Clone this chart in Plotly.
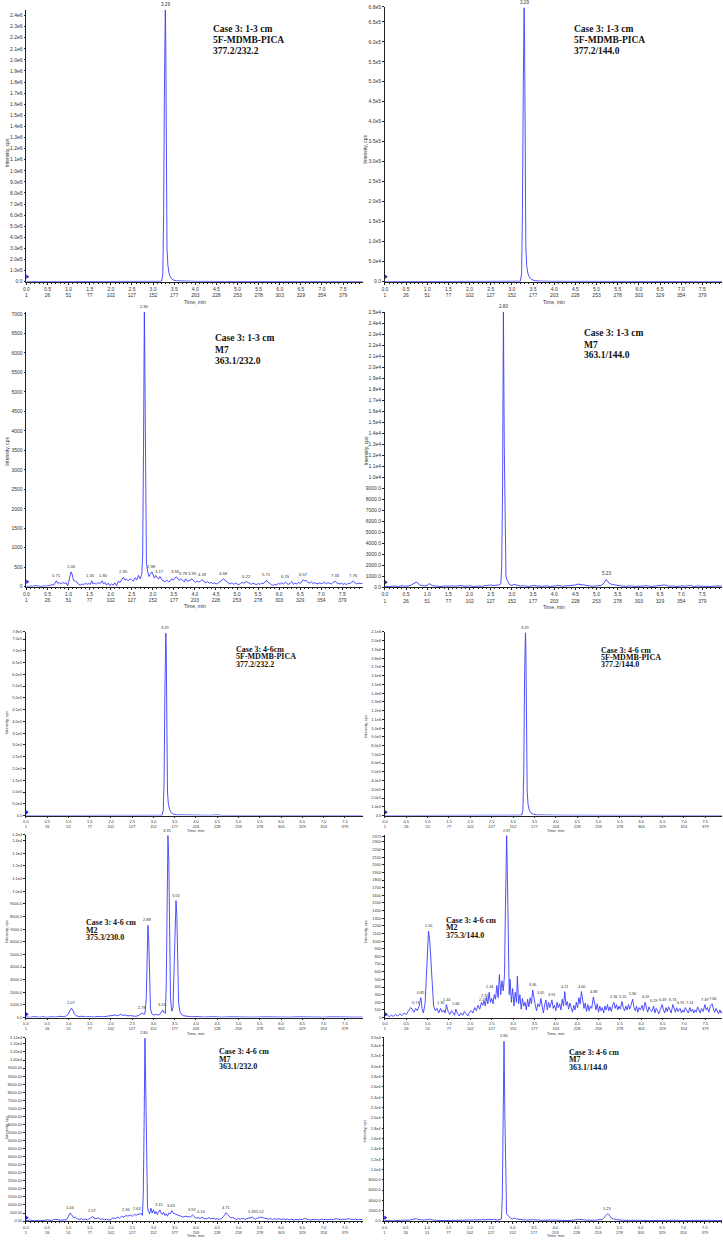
import plotly.graph_objects as go

W, H = 723, 1240
LINE = "#3c3cff"

# ---------------- shared axis labels ----------------
time_ticks = [0.0, 0.5, 1.0, 1.5, 2.0, 2.5, 3.0, 3.5, 4.0, 4.5, 5.0, 5.5, 6.0, 6.5, 7.0, 7.5]
scan_numbers = [1, 26, 51, 77, 102, 127, 152, 177, 203, 228, 253, 278, 303, 329, 354, 379]

# ---------------- A: Case 3 1-3 cm, 5F-MDMB-PICA 377.2/232.2 ----------------
a_time = [0.00, 0.50, 1.00, 1.50, 2.00, 2.20, 2.50, 3.00, 3.20, 3.23, 3.25, 3.27, 3.28, 3.29, 3.30, 3.31,
          3.32, 3.33, 3.35, 3.38, 3.42, 3.47, 3.55, 3.70, 4.00, 4.40, 4.80, 5.50, 6.50, 8.00]
a_int = [0, 0, 0, 0, 0, 3000, 0, 0, 3000, 6.0e4, 6.0e5, 1.8e6, 2.3e6, 2.45e6, 2.2e6, 1.3e6,
         6.0e5, 3.0e5, 1.5e5, 7.0e4, 3.5e4, 1.6e4, 8000, 4000, 2500, 2000, 1000, 500, 0, 0]
a_peak_t = [3.29]
a_peak_i = [2.45e6]
a_peak_lbl = ["3.29"]
a_ytext = ["0.0", "1.0e5", "2.0e5", "3.0e5", "4.0e5", "5.0e5", "6.0e5", "7.0e5", "8.0e5", "9.0e5",
           "1.0e6", "1.1e6", "1.2e6", "1.3e6", "1.4e6", "1.5e6", "1.6e6", "1.7e6", "1.8e6", "1.9e6",
           "2.0e6", "2.1e6", "2.2e6", "2.3e6", "2.4e6"]
a_yvals = [0, 1e5, 2e5, 3e5, 4e5, 5e5, 6e5, 7e5, 8e5, 9e5, 1.0e6, 1.1e6, 1.2e6, 1.3e6, 1.4e6, 1.5e6,
           1.6e6, 1.7e6, 1.8e6, 1.9e6, 2.0e6, 2.1e6, 2.2e6, 2.3e6, 2.4e6]

# ---------------- B: Case 3 1-3 cm, 5F-MDMB-PICA 377.2/144.0 ----------------
b_time = [0.00, 1.00, 2.00, 3.00, 3.20, 3.23, 3.25, 3.27, 3.28, 3.29, 3.30, 3.31, 3.32, 3.33, 3.35,
          3.38, 3.42, 3.47, 3.55, 3.70, 4.00, 5.00, 8.00]
b_int = [0, 0, 0, 500, 1000, 2.0e4, 1.8e5, 5.0e5, 6.5e5, 6.85e5, 6.0e5, 3.6e5, 1.7e5, 8.5e4, 4.0e4,
         2.0e4, 1.0e4, 5000, 2500, 1200, 800, 300, 0]
b_peak_t = [3.29]
b_peak_i = [6.85e5]
b_peak_lbl = ["3.29"]
b_ytext = ["0.0", "5.0e4", "1.0e5", "1.5e5", "2.0e5", "2.5e5", "3.0e5", "3.5e5", "4.0e5", "4.5e5",
           "5.0e5", "5.5e5", "6.0e5", "6.5e5", "6.8e5"]
b_yvals = [0, 5e4, 1e5, 1.5e5, 2e5, 2.5e5, 3e5, 3.5e5, 4e5, 4.5e5, 5e5, 5.5e5, 6e5, 6.5e5, 6.87e5]

# ---------------- C: Case 3 1-3 cm, M7 363.1/232.0 ----------------
c_time = [0.00, 0.05, 0.10, 0.15, 0.20, 0.25, 0.30, 0.35, 0.40, 0.45, 0.50, 0.55, 0.60, 0.65, 0.68, 0.71,
          0.74, 0.78, 0.82, 0.86, 0.90, 0.94, 0.98, 1.02, 1.06, 1.09, 1.12, 1.16, 1.20, 1.24, 1.28, 1.32,
          1.36, 1.40, 1.44, 1.48, 1.52, 1.55, 1.58, 1.62, 1.66, 1.70, 1.74, 1.77, 1.80, 1.83, 1.87, 1.90,
          1.94, 1.98, 2.02, 2.06, 2.10, 2.14, 2.18, 2.22, 2.26, 2.30, 2.34, 2.38, 2.42, 2.46, 2.50, 2.54,
          2.58, 2.62, 2.66, 2.70, 2.74, 2.76, 2.78, 2.80, 2.81, 2.82, 2.83, 2.85, 2.88, 2.91, 2.94, 2.98,
          3.01, 3.04, 3.07, 3.10, 3.14, 3.17, 3.21, 3.25, 3.29, 3.33, 3.37, 3.41, 3.45, 3.49, 3.52, 3.55,
          3.59, 3.63, 3.67, 3.71, 3.75, 3.78, 3.82, 3.86, 3.90, 3.93, 3.97, 4.01, 4.05, 4.09, 4.13, 4.18,
          4.22, 4.26, 4.30, 4.34, 4.38, 4.42, 4.46, 4.50, 4.54, 4.58, 4.62, 4.66, 4.68, 4.72, 4.76, 4.80,
          4.84, 4.88, 4.92, 4.96, 5.00, 5.04, 5.08, 5.12, 5.16, 5.20, 5.22, 5.26, 5.30, 5.34, 5.38, 5.42,
          5.46, 5.50, 5.54, 5.58, 5.62, 5.66, 5.71, 5.74, 5.78, 5.82, 5.86, 5.90, 5.94, 5.98, 6.02, 6.06,
          6.10, 6.15, 6.18, 6.22, 6.26, 6.30, 6.34, 6.38, 6.42, 6.46, 6.50, 6.54, 6.57, 6.60, 6.64, 6.68,
          6.72, 6.76, 6.80, 6.84, 6.88, 6.92, 6.96, 7.00, 7.04, 7.08, 7.12, 7.16, 7.20, 7.24, 7.28, 7.33,
          7.36, 7.40, 7.44, 7.48, 7.52, 7.56, 7.60, 7.64, 7.68, 7.72, 7.76, 7.80, 7.84, 7.88, 7.92, 8.00]
c_int = [20, 5, 15, 10, 25, 10, 15, 5, 20, 10, 30, 25, 50, 40, 80, 150,
         90, 100, 70, 110, 80, 100, 20, 200, 380, 300, 160, 140, 120, 60, 40, 70,
         50, 90, 60, 80, 60, 150, 70, 90, 60, 110, 80, 100, 150, 70, 110, 40,
         90, 30, 70, 40, 100, 20, 140, 110, 180, 240, 170, 190, 150, 200, 180, 140,
         230, 170, 290, 200, 320, 800, 3500, 7050, 6000, 4500, 2000, 600, 380, 260, 320, 380,
         300, 220, 290, 230, 200, 260, 180, 150, 120, 170, 130, 140, 200, 170, 210, 250,
         220, 160, 200, 150, 120, 200, 140, 150, 170, 200, 150, 110, 150, 120, 140, 180,
         120, 100, 130, 90, 110, 80, 100, 70, 80, 110, 140, 170, 200, 160, 120, 90,
         70, 100, 60, 90, 70, 50, 80, 110, 90, 120, 130, 110, 80, 60, 90, 70,
         50, 80, 60, 90, 70, 120, 160, 110, 70, 50, 30, 60, 40, 90, 60, 100,
         70, 120, 80, 60, 90, 130, 60, 90, 70, 110, 80, 140, 180, 150, 160, 110,
         90, 130, 80, 100, 90, 70, 100, 80, 90, 110, 80, 100, 90, 70, 110, 140,
         100, 80, 70, 90, 60, 80, 50, 90, 80, 110, 140, 100, 70, 90, 80, 90]
c_peak_t = [0.71, 1.06, 1.55, 1.80, 2.30, 2.80, 2.98, 3.17, 3.55, 3.78, 3.93, 4.18, 4.68, 5.22, 5.71,
            6.15, 6.57, 7.33, 7.76]
c_peak_i = [150, 380, 150, 150, 240, 7050, 380, 260, 250, 200, 200, 180, 200, 130, 160, 120, 180, 140, 140]
c_peak_lbl = ["0.71", "1.06", "1.55", "1.80", "2.30", "2.80", "2.98", "3.17", "3.55", "3.78", "3.93",
              "4.18", "4.68", "5.22", "5.71", "6.15", "6.57", "7.33", "7.76"]
c_ytext = ["0", "500", "1000", "1500", "2000", "2500", "3000", "3500", "4000", "4500", "5000", "5500",
           "6000", "6500", "7000"]
c_yvals = [0, 500, 1000, 1500, 2000, 2500, 3000, 3500, 4000, 4500, 5000, 5500, 6000, 6500, 7000]

# ---------------- D: Case 3 1-3 cm, M7 363.1/144.0 ----------------
d_time = [0.00, 0.10, 0.20, 0.30, 0.40, 0.50, 0.60, 0.66, 0.70, 0.74, 0.78, 0.82, 0.88, 0.94, 1.00,
          1.04, 1.08, 1.12, 1.20, 1.30, 1.40, 1.50, 1.60, 1.70, 1.80, 1.90, 2.00, 2.10, 2.20, 2.30, 2.40,
          2.50, 2.56, 2.62, 2.70, 2.74, 2.76, 2.78, 2.80, 2.82, 2.84, 2.86, 2.88, 2.90, 2.94, 3.00, 3.05,
          3.10, 3.20, 3.30, 3.40, 3.50, 3.60, 3.70, 3.80, 3.90, 4.00, 4.10, 4.20, 4.30, 4.40, 4.50, 4.56,
          4.62, 4.70, 4.80, 4.90, 5.00, 5.10, 5.16, 5.20, 5.23, 5.26, 5.30, 5.36, 5.42, 5.50, 5.60, 5.70,
          5.80, 5.90, 6.00, 6.10, 6.20, 6.30, 6.40, 6.50, 6.60, 6.66, 6.70, 6.80, 6.90, 7.00, 7.10, 7.20,
          7.30, 7.40, 7.50, 7.60, 7.70, 7.80, 7.90, 8.00]
d_int = [80, 40, 100, 60, 120, 80, 150, 300, 420, 450, 350, 200, 150, 100, 150,
         320, 250, 150, 100, 60, 100, 80, 60, 100, 150, 80, 120, 60, 100, 80, 150,
         200, 150, 180, 200, 300, 2000, 9000, 25000, 13000, 4000, 1000, 700, 500, 250, 150, 250,
         200, 100, 120, 60, 150, 100, 80, 120, 60, 100, 150, 80, 100, 120, 200, 280,
         250, 150, 100, 80, 120, 150, 300, 550, 700, 550, 350, 250, 200, 150, 100, 80,
         120, 60, 100, 80, 120, 60, 100, 120, 200, 150, 80, 100, 60, 120, 80, 150,
         60, 100, 80, 120, 60, 100, 80, 100]
d_peak_t = [2.80, 5.23]
d_peak_i = [25000, 700]
d_peak_lbl = ["2.80", "5.23"]
d_ytext = ["0.0", "1000.0", "2000.0", "3000.0", "4000.0", "5000.0", "6000.0", "7000.0", "8000.0", "9000.0",
           "1.0e4", "1.1e4", "1.2e4", "1.3e4", "1.4e4", "1.5e4", "1.6e4", "1.7e4", "1.8e4", "1.9e4",
           "2.0e4", "2.1e4", "2.2e4", "2.3e4", "2.4e4", "2.5e4"]
d_yvals = [0, 1000, 2000, 3000, 4000, 5000, 6000, 7000, 8000, 9000, 10000, 11000, 12000, 13000, 14000,
           15000, 16000, 17000, 18000, 19000, 20000, 21000, 22000, 23000, 24000, 25000]

# ---------------- E: Case 3 4-6 cm, 5F-MDMB-PICA 377.2/232.2 ----------------
e_time = [0.00, 1.00, 2.00, 2.80, 3.20, 3.23, 3.25, 3.27, 3.28, 3.29, 3.30, 3.31, 3.32, 3.33, 3.35,
          3.38, 3.42, 3.47, 3.55, 3.70, 4.00, 4.30, 4.40, 4.50, 4.60, 5.00, 6.00, 8.00]
e_int = [0, 0, 0, 0, 1000, 2.0e4, 1.5e5, 5.5e5, 7.2e5, 7.75e5, 7.0e5, 4.5e5, 2.2e5, 1.0e5, 5.0e4,
         2.5e4, 1.2e4, 6000, 3000, 2000, 1500, 1000, 1500, 3000, 500, 0, 0, 0]
e_peak_t = [3.29]
e_peak_i = [7.75e5]
e_peak_lbl = ["3.29"]
e_ytext = ["0.0", "5.0e4", "1.0e5", "1.5e5", "2.0e5", "2.5e5", "3.0e5", "3.5e5", "4.0e5", "4.5e5",
           "5.0e5", "5.5e5", "6.0e5", "6.5e5", "7.0e5", "7.5e5", "7.8e5"]
e_yvals = [0, 5e4, 1e5, 1.5e5, 2e5, 2.5e5, 3e5, 3.5e5, 4e5, 4.5e5, 5e5, 5.5e5, 6e5, 6.5e5, 7e5, 7.5e5, 7.8e5]

# ---------------- F: Case 3 4-6 cm, 5F-MDMB-PICA 377.2/144.0 ----------------
f_time = [0.00, 1.00, 2.00, 2.60, 2.80, 3.00, 3.20, 3.23, 3.25, 3.27, 3.28, 3.29, 3.30, 3.31, 3.32,
          3.33, 3.35, 3.38, 3.42, 3.47, 3.55, 3.70, 4.00, 4.50, 5.00, 5.40, 6.00, 8.00]
f_int = [0, 0, 0, 3000, 5000, 2000, 4000, 6.0e4, 5.0e5, 1.6e6, 2.0e6, 2.09e6, 1.9e6, 1.2e6, 6.0e5,
         2.8e5, 1.3e5, 6.0e4, 3.0e4, 1.5e4, 8000, 5000, 4000, 3000, 3000, 2000, 0, 0]
f_peak_t = [3.29]
f_peak_i = [2.09e6]
f_peak_lbl = ["3.29"]
f_ytext = ["0.0", "1.0e5", "2.0e5", "3.0e5", "4.0e5", "5.0e5", "6.0e5", "7.0e5", "8.0e5", "9.0e5",
           "1.0e6", "1.1e6", "1.2e6", "1.3e6", "1.4e6", "1.5e6", "1.6e6", "1.7e6", "1.8e6", "1.9e6",
           "2.0e6", "2.1e6"]
f_yvals = [0, 1e5, 2e5, 3e5, 4e5, 5e5, 6e5, 7e5, 8e5, 9e5, 1.0e6, 1.1e6, 1.2e6, 1.3e6, 1.4e6, 1.5e6,
           1.6e6, 1.7e6, 1.8e6, 1.9e6, 2.0e6, 2.1e6]

# ---------------- G: Case 3 4-6 cm, M2 375.3/230.0 ----------------
g_time = [0.00, 0.10, 0.20, 0.30, 0.40, 0.50, 0.60, 0.70, 0.80, 0.90, 0.96, 1.00, 1.04, 1.07, 1.10,
          1.14, 1.18, 1.24, 1.30, 1.40, 1.50, 1.60, 1.70, 1.80, 1.90, 2.00, 2.10, 2.16, 2.22, 2.28, 2.34,
          2.40, 2.46, 2.52, 2.58, 2.64, 2.70, 2.74, 2.77, 2.80, 2.83, 2.85, 2.87, 2.89, 2.91, 2.93, 2.96,
          3.00, 3.05, 3.10, 3.15, 3.19, 3.22, 3.25, 3.28, 3.30, 3.32, 3.34, 3.36, 3.38, 3.40, 3.43, 3.46,
          3.49, 3.51, 3.53, 3.55, 3.57, 3.59, 3.62, 3.66, 3.70, 3.80, 3.90, 4.00, 4.20, 4.40, 4.60, 4.80,
          5.00, 5.20, 5.40, 5.60, 5.80, 6.00, 6.20, 6.40, 6.60, 6.80, 7.00, 7.20, 7.40, 7.60, 7.80, 8.00]
g_int = [50, 20, 80, 30, 60, 20, 70, 40, 100, 60, 150, 300, 600, 740, 600,
         300, 150, 80, 100, 50, 80, 40, 90, 60, 100, 150, 200, 140, 250, 180, 200,
         130, 160, 120, 100, 150, 250, 370, 250, 300, 1500, 4500, 7300, 6000, 2500, 700, 300,
         200, 250, 200, 250, 500, 600, 400, 350, 2500, 10000, 14400, 12500, 5000, 1500, 500, 800,
         4500, 8500, 9250, 8000, 4000, 1200, 500, 250, 150, 100, 60, 80, 40, 70, 30, 60,
         40, 70, 30, 60, 40, 70, 30, 60, 40, 70, 30, 60, 40, 70, 30, 50]
g_peak_t = [1.07, 2.74, 2.87, 3.22, 3.34, 3.53]
g_peak_i = [740, 370, 7300, 600, 14400, 9250]
g_peak_lbl = ["1.07", "2.78", "2.88", "3.24", "3.35", "3.55"]
g_ytext = ["0.0", "1000.0", "2000.0", "3000.0", "4000.0", "5000.0", "6000.0", "7000.0", "8000.0", "9000.0",
           "1.0e4", "1.1e4", "1.2e4", "1.3e4", "1.4e4", "1.4e4"]
g_yvals = [0, 1000, 2000, 3000, 4000, 5000, 6000, 7000, 8000, 9000, 10000, 11000, 12000, 13000, 14000, 14450]

# ---------------- H: Case 3 4-6 cm, M2 375.3/144.0 ----------------
h_time = [0.00, 0.05, 0.10, 0.15, 0.20, 0.25, 0.30, 0.35, 0.40, 0.45, 0.50, 0.55, 0.60, 0.64, 0.68, 0.72,
          0.76, 0.80, 0.84, 0.87, 0.90, 0.94, 0.98, 1.02, 1.05, 1.08, 1.11, 1.14, 1.18, 1.22, 1.26, 1.30,
          1.34, 1.38, 1.41, 1.44, 1.48, 1.52, 1.56, 1.60, 1.63, 1.66, 1.70, 1.74, 1.78, 1.82, 1.86, 1.90,
          1.94, 1.98, 2.02, 2.06, 2.10, 2.14, 2.18, 2.22, 2.26, 2.29, 2.32, 2.35, 2.38, 2.41, 2.44, 2.47,
          2.50, 2.53, 2.56, 2.59, 2.62, 2.65, 2.68, 2.71, 2.74, 2.77, 2.80, 2.82, 2.85, 2.87, 2.89, 2.91,
          2.93, 2.96, 2.99, 3.02, 3.05, 3.08, 3.10, 3.13, 3.16, 3.19, 3.22, 3.25, 3.28, 3.31, 3.34, 3.37,
          3.40, 3.43, 3.46, 3.49, 3.52, 3.55, 3.58, 3.62, 3.65, 3.68, 3.71, 3.74, 3.77, 3.80, 3.83, 3.86,
          3.89, 3.91, 3.94, 3.97, 4.00, 4.03, 4.06, 4.09, 4.12, 4.15, 4.18, 4.21, 4.24, 4.27, 4.30, 4.33,
          4.36, 4.39, 4.42, 4.45, 4.48, 4.51, 4.54, 4.57, 4.60, 4.63, 4.66, 4.69, 4.72, 4.75, 4.78, 4.81,
          4.84, 4.88, 4.91, 4.94, 4.97, 5.00, 5.03, 5.06, 5.09, 5.12, 5.15, 5.18, 5.21, 5.24, 5.27, 5.30,
          5.33, 5.36, 5.39, 5.42, 5.45, 5.48, 5.51, 5.55, 5.58, 5.61, 5.64, 5.67, 5.70, 5.73, 5.76, 5.80,
          5.83, 5.86, 5.89, 5.92, 5.95, 5.98, 6.02, 6.05, 6.09, 6.12, 6.15, 6.18, 6.21, 6.25, 6.29, 6.32,
          6.35, 6.38, 6.41, 6.45, 6.49, 6.52, 6.55, 6.58, 6.61, 6.64, 6.67, 6.70, 6.74, 6.77, 6.80, 6.83,
          6.86, 6.91, 6.94, 6.97, 7.00, 7.03, 7.06, 7.10, 7.14, 7.17, 7.20, 7.23, 7.26, 7.29, 7.32, 7.35,
          7.38, 7.41, 7.45, 7.49, 7.52, 7.55, 7.58, 7.62, 7.66, 7.69, 7.72, 7.75, 7.78, 7.81, 7.84, 7.87,
          7.90, 7.93, 7.96, 8.00]
h_int = [20, 40, 10, 30, 15, 40, 20, 50, 25, 60, 40, 90, 130, 110, 70, 120,
         90, 150, 260, 120, 60, 180, 700, 1130, 1000, 750, 400, 150, 90, 120, 60, 120,
         70, 100, 60, 170, 80, 40, 90, 60, 30, 110, 50, 20, 60, 30, 80, 50,
         20, 70, 90, 60, 130, 90, 160, 110, 200, 160, 220, 150, 270, 180, 330, 200,
         250, 180, 300, 240, 420, 260, 560, 300, 480, 350, 560, 1400, 2380, 1750, 700, 300,
         500, 200, 380, 150, 330, 200, 540, 180, 300, 110, 250, 150, 200, 100, 240, 140,
         260, 180, 360, 220, 160, 90, 180, 140, 250, 150, 60, 170, 230, 100, 200, 130,
         180, 230, 120, 160, 90, 200, 130, 180, 100, 240, 150, 340, 160, 210, 110, 190,
         130, 70, 160, 100, 200, 130, 260, 180, 340, 250, 120, 190, 80, 170, 90, 150,
         120, 270, 160, 100, 180, 70, 150, 90, 130, 60, 150, 100, 170, 90, 140, 80,
         160, 200, 120, 170, 100, 150, 110, 210, 130, 90, 150, 100, 170, 110, 160, 240,
         130, 90, 150, 70, 130, 100, 160, 90, 200, 120, 70, 140, 100, 80, 150, 60,
         120, 90, 50, 110, 170, 100, 60, 130, 80, 140, 100, 60, 170, 110, 70, 130,
         80, 120, 60, 100, 70, 130, 90, 60, 130, 80, 110, 60, 100, 70, 140, 90,
         60, 120, 80, 170, 100, 130, 70, 150, 180, 110, 70, 120, 80, 50, 100, 60,
         90, 130, 70, 60]
h_peak_t = [0.72, 0.84, 1.02, 1.30, 1.44, 1.66, 2.29, 2.32, 2.44, 2.85, 3.46, 3.65, 3.91, 4.21, 4.60,
            4.88, 5.36, 5.55, 5.80, 6.09, 6.29, 6.49, 6.74, 6.91, 7.14, 7.49, 7.66, 7.93]
h_peak_i = [120, 260, 1130, 120, 170, 110, 160, 220, 330, 2380, 360, 250, 230, 340, 340,
            270, 200, 210, 240, 200, 150, 170, 170, 120, 130, 170, 180, 130]
h_peak_lbl = ["0.71", "0.85", "1.05", "1.30", "1.44", "1.66", "2.29", "2.32", "2.44", "2.87", "3.46",
              "3.65", "3.91", "4.21", "4.60", "4.88", "5.36", "5.55", "5.80", "6.09", "6.29", "6.49",
              "6.74", "6.91", "7.14", "7.49", "7.66", "7.93"]
h_ytext = ["0", "100", "200", "300", "400", "500", "600", "700", "800", "900", "1000", "1100", "1200",
           "1300", "1400", "1500", "1600", "1700", "1800", "1900", "2000", "2100", "2200", "2300", "2375"]
h_yvals = [0, 100, 200, 300, 400, 500, 600, 700, 800, 900, 1000, 1100, 1200, 1300, 1400, 1500, 1600,
           1700, 1800, 1900, 2000, 2100, 2200, 2300, 2375]

# ---------------- I: Case 3 4-6 cm, M7 363.1/232.0 ----------------
i_time = [0.00, 0.10, 0.20, 0.30, 0.40, 0.50, 0.60, 0.70, 0.80, 0.90, 0.96, 1.00, 1.04, 1.08, 1.12,
          1.16, 1.20, 1.25, 1.30, 1.35, 1.40, 1.45, 1.50, 1.54, 1.57, 1.60, 1.65, 1.70, 1.75, 1.80, 1.85,
          1.90, 1.95, 2.00, 2.05, 2.10, 2.15, 2.20, 2.25, 2.30, 2.36, 2.40, 2.45, 2.50, 2.55, 2.60, 2.63,
          2.66, 2.70, 2.74, 2.76, 2.78, 2.80, 2.82, 2.84, 2.86, 2.88, 2.91, 2.94, 2.97, 3.00, 3.03, 3.06,
          3.09, 3.12, 3.15, 3.18, 3.21, 3.24, 3.27, 3.30, 3.33, 3.36, 3.40, 3.43, 3.46, 3.50, 3.55, 3.60,
          3.65, 3.70, 3.75, 3.80, 3.86, 3.92, 3.96, 4.00, 4.05, 4.10, 4.14, 4.18, 4.25, 4.30, 4.35, 4.40,
          4.45, 4.50, 4.55, 4.60, 4.65, 4.68, 4.71, 4.74, 4.78, 4.82, 4.86, 4.90, 4.95, 5.00, 5.05, 5.10,
          5.15, 5.20, 5.25, 5.30, 5.33, 5.36, 5.40, 5.45, 5.52, 5.58, 5.65, 5.70, 5.75, 5.80, 5.85, 5.90,
          5.95, 6.00, 6.05, 6.10, 6.15, 6.20, 6.25, 6.30, 6.35, 6.40, 6.45, 6.50, 6.55, 6.60, 6.65, 6.70,
          6.75, 6.80, 6.85, 6.90, 6.95, 7.00, 7.05, 7.10, 7.15, 7.20, 7.25, 7.30, 7.35, 7.40, 7.45, 7.50,
          7.55, 7.60, 7.65, 7.70, 7.75, 7.80, 7.85, 7.90, 8.00]
i_int = [30, 60, 20, 50, 30, 80, 40, 120, 60, 100, 80, 300, 500, 380, 200,
         250, 150, 100, 150, 80, 120, 70, 150, 200, 290, 180, 150, 200, 100, 140, 80,
         120, 60, 100, 200, 150, 250, 180, 300, 250, 350, 300, 380, 300, 420, 350, 450,
         380, 500, 350, 1600, 6000, 11350, 8000, 3000, 900, 600, 450, 800, 500, 700, 450, 600,
         400, 550, 700, 500, 400, 550, 350, 450, 300, 500, 450, 650, 500, 450, 400, 350,
         300, 250, 300, 280, 250, 370, 250, 180, 220, 150, 250, 180, 140, 200, 150, 180,
         120, 150, 100, 150, 300, 450, 520, 400, 300, 200, 230, 150, 100, 150, 120, 170,
         100, 150, 180, 200, 250, 150, 120, 180, 250, 200, 150, 120, 160, 100, 140, 110,
         150, 100, 130, 90, 120, 80, 110, 70, 100, 80, 120, 90, 160, 100, 90, 70,
         110, 80, 100, 70, 120, 90, 110, 80, 120, 90, 100, 150, 110, 90, 120, 100,
         130, 150, 110, 90, 120, 80, 100, 90, 100]
i_peak_t = [1.04, 1.57, 2.36, 2.63, 2.80, 3.15, 3.43, 3.92, 4.14, 4.71, 5.33, 5.52]
i_peak_i = [500, 290, 350, 450, 11350, 700, 650, 370, 250, 520, 250, 250]
i_peak_lbl = ["1.04", "1.57", "2.36", "2.63", "2.80", "3.15", "3.43", "3.92", "4.14", "4.71", "5.33", "5.52"]
i_ytext = ["0.00", "500.00", "1000.00", "1500.00", "2000.00", "2500.00", "3000.00", "3500.00", "4000.00",
           "4500.00", "5000.00", "5500.00", "6000.00", "6500.00", "7000.00", "7500.00", "8000.00",
           "8500.00", "9000.00", "9500.00", "1.00e4", "1.05e4", "1.10e4", "1.14e4"]
i_yvals = [0, 500, 1000, 1500, 2000, 2500, 3000, 3500, 4000, 4500, 5000, 5500, 6000, 6500, 7000, 7500,
           8000, 8500, 9000, 9500, 10000, 10500, 11000, 11370]

# ---------------- J: Case 3 4-6 cm, M7 363.1/144.0 ----------------
j_time = [0.00, 0.20, 0.40, 0.60, 0.70, 0.75, 0.80, 0.90, 1.00, 1.05, 1.10, 1.20, 1.40, 1.60, 1.80,
          2.00, 2.20, 2.40, 2.50, 2.55, 2.65, 2.74, 2.76, 2.78, 2.80, 2.82, 2.84, 2.86, 2.88, 2.92, 2.96,
          3.00, 3.05, 3.10, 3.20, 3.30, 3.50, 3.70, 3.90, 4.10, 4.30, 4.50, 4.60, 4.70, 4.90, 5.10, 5.16,
          5.20, 5.23, 5.26, 5.30, 5.36, 5.45, 5.60, 5.80, 6.00, 6.20, 6.40, 6.60, 6.80, 7.00, 7.20, 7.40,
          7.60, 7.80, 8.00]
j_int = [100, 50, 150, 200, 400, 450, 300, 200, 250, 350, 250, 150, 100, 150, 100,
         150, 200, 250, 350, 300, 200, 400, 5000, 20000, 34800, 20000, 6000, 1500, 1200, 800, 500,
         400, 600, 400, 250, 200, 250, 150, 200, 150, 100, 250, 300, 200, 150, 300, 800,
         1300, 1450, 1200, 700, 400, 250, 150, 200, 150, 100, 150, 200, 150, 100, 150, 100,
         150, 100, 120]
j_peak_t = [2.80, 5.23]
j_peak_i = [34800, 1450]
j_peak_lbl = ["2.80", "5.23"]
j_ytext = ["0.0", "2000.0", "4000.0", "6000.0", "8000.0", "1.0e4", "1.2e4", "1.4e4", "1.6e4", "1.8e4",
           "2.0e4", "2.2e4", "2.4e4", "2.6e4", "2.8e4", "3.0e4", "3.2e4", "3.4e4", "3.5e4"]
j_yvals = [0, 2000, 4000, 6000, 8000, 10000, 12000, 14000, 16000, 18000, 20000, 22000, 24000, 26000,
           28000, 30000, 32000, 34000, 35450]

# ---------------- panel texts ----------------
a_title = ["Case 3: 1-3 cm", "5F-MDMB-PICA", "377.2/232.2"]
b_title = ["Case 3: 1-3 cm", "5F-MDMB-PICA", "377.2/144.0"]
c_title = ["Case 3: 1-3 cm", "M7", "363.1/232.0"]
d_title = ["Case 3: 1-3 cm", "M7", "363.1/144.0"]
e_title = ["Case 3: 4-6cm", "5F-MDMB-PICA", "377.2/232.2"]
f_title = ["Case 3: 4-6 cm", "5F-MDMB-PICA", "377.2/144.0"]
g_title = ["Case 3: 4-6 cm", "M2", "375.3/230.0"]
h_title = ["Case 3: 4-6 cm", "M2", "375.3/144.0"]
i_title = ["Case 3: 4-6 cm", "M7", "363.1/232.0"]
j_title = ["Case 3: 4-6 cm", "M7", "363.1/144.0"]

# small horizontal nudges (px) for crowded peak labels, keyed by label text per panel
c_label_nudge = {"3.78": -2.5, "3.93": 1.0, "1.55": -0.8, "1.80": 0.8}

# ---------------- layout geometry (pixels) ----------------
panels = [
    dict(t=a_time, i=a_int, pt=a_peak_t, pi=a_peak_i, pl=a_peak_lbl, yt_text=a_ytext, yt_vals=a_yvals, title=a_title,
         x0=23.5, x1=361, ppm=42.4, y0=280, yt=7, ymax=2.45e6, tx=208.5, ty=[26, 37.3, 48.3], tfs=9.5,
         tlab=300, fs=5, pfs=4.6, ytitle=150, nudge={}),
    dict(t=b_time, i=b_int, pt=b_peak_t, pi=b_peak_i, pl=b_peak_lbl, yt_text=b_ytext, yt_vals=b_yvals, title=b_title,
         x0=383.5, x1=722, ppm=42.5, y0=280, yt=4, ymax=6.87e5, tx=571, ty=[26, 37, 48], tfs=9.5,
         tlab=300, fs=5, pfs=4.6, ytitle=147, nudge={}),
    dict(t=c_time, i=c_int, pt=c_peak_t, pi=c_peak_i, pl=c_peak_lbl, yt_text=c_ytext, yt_vals=c_yvals, title=c_title,
         x0=23.5, x1=361, ppm=42.3, y0=586.5, yt=310, ymax=7064, tx=210.5, ty=[336.7, 348.3, 360], tfs=9.5,
         tlab=606, fs=5, pfs=4.2, ytitle=450, nudge=c_label_nudge),
    dict(t=d_time, i=d_int, pt=d_peak_t, pi=d_peak_i, pl=d_peak_lbl, yt_text=d_ytext, yt_vals=d_yvals, title=d_title,
         x0=383.5, x1=722, ppm=42.5, y0=587, yt=310, ymax=25060, tx=581.3, ty=[331.7, 343.3, 354], tfs=9.5,
         tlab=606.5, fs=5, pfs=4.6, ytitle=450, nudge={}),
    dict(t=e_time, i=e_int, pt=e_peak_t, pi=e_peak_i, pl=e_peak_lbl, yt_text=e_ytext, yt_vals=e_yvals, title=e_title,
         x0=23, x1=361, ppm=42.7, y0=816.5, yt=632, ymax=7.8e5, tx=231.7, ty=[649.3, 656.7, 664.3], tfs=8,
         tlab=831.5, fs=4.0, pfs=4.0, ytitle=723, nudge={}),
    dict(t=f_time, i=f_int, pt=f_peak_t, pi=f_peak_i, pl=f_peak_lbl, yt_text=f_ytext, yt_vals=f_yvals, title=f_title,
         x0=383.5, x1=722, ppm=42.9, y0=816.5, yt=632, ymax=2.1e6, tx=598, ty=[650.7, 657.7, 665], tfs=8,
         tlab=831.5, fs=4.0, pfs=4.0, ytitle=727, nudge={}),
    dict(t=g_time, i=g_int, pt=g_peak_t, pi=g_peak_i, pl=g_peak_lbl, yt_text=g_ytext, yt_vals=g_yvals, title=g_title,
         x0=23, x1=361, ppm=42.7, y0=1019.5, yt=836, ymax=14450, tx=81.3, ty=[924.3, 931.7, 939], tfs=8,
         tlab=1035.2, fs=4.0, pfs=4.0, ytitle=933, nudge={}),
    dict(t=h_time, i=h_int, pt=h_peak_t, pi=h_peak_i, pl=h_peak_lbl, yt_text=h_ytext, yt_vals=h_yvals, title=h_title,
         x0=383.5, x1=722, ppm=42.9, y0=1019.5, yt=836, ymax=2390, tx=443.3, ty=[921.7, 929, 936.7], tfs=8,
         tlab=1035.2, fs=4.0, pfs=3.8, ytitle=933, nudge={}),
    dict(t=i_time, i=i_int, pt=i_peak_t, pi=i_peak_i, pl=i_peak_lbl, yt_text=i_ytext, yt_vals=i_yvals, title=i_title,
         x0=23, x1=361, ppm=42.7, y0=1224, yt=1040, ymax=11370, tx=215, ty=[1053.3, 1061.3, 1068.7], tfs=8,
         tlab=1238, fs=4.0, pfs=4.0, ytitle=1130, nudge={}),
    dict(t=j_time, i=j_int, pt=j_peak_t, pi=j_peak_i, pl=j_peak_lbl, yt_text=j_ytext, yt_vals=j_yvals, title=j_title,
         x0=383, x1=722, ppm=42.9, y0=1224, yt=1040, ymax=35450, tx=566.3, ty=[1054.3, 1062, 1069.7], tfs=8,
         tlab=1238, fs=4.0, pfs=4.0, ytitle=1133, nudge={}),
]


def px(x):
    return x / W


def py(y):
    return 1 - y / H


fig = go.Figure()
annotations = []
layout = {}
AX = "#222222"
TXT = "#333333"

for k, p in enumerate(panels):
    n = "" if k == 0 else str(k + 1)
    xa, ya = "x" + n, "y" + n
    xmax = (p["x1"] - p["x0"]) / p["ppm"]
    fig.add_trace(go.Scatter(x=p["t"], y=p["i"], mode="lines", line=dict(color=LINE, width=0.9),
                             xaxis=xa, yaxis=ya, hoverinfo="skip", showlegend=False))
    fig.add_trace(go.Scatter(x=[0.02], y=[p["ymax"] * 0.018], mode="markers",
                             marker=dict(symbol="triangle-right", size=4, color="#2020e0"),
                             xaxis=xa, yaxis=ya, hoverinfo="skip", showlegend=False, cliponaxis=False))
    xtick_text = [f"{t:.1f}<br>{s}" for t, s in zip(time_ticks, scan_numbers)]
    layout["xaxis" + n] = dict(
        domain=[px(p["x0"]), px(p["x1"])], range=[0, xmax], anchor=ya,
        tickvals=time_ticks, ticktext=xtick_text, ticks="outside", ticklen=2, tickwidth=0.8,
        tickcolor=AX, showline=True, linecolor=AX, linewidth=0.8, showgrid=False, zeroline=False,
        tickfont=dict(family="Liberation Sans", size=p["fs"], color=TXT), ticklabelstandoff=0,
        minor=dict(dtick=0.1, ticks="outside", ticklen=1, tickcolor=AX, tickwidth=0.6),
        fixedrange=True,
    )
    layout["yaxis" + n] = dict(
        domain=[py(p["y0"]), py(p["yt"])],
        range=[0, p["ymax"]], anchor=xa,
        tickvals=p["yt_vals"], ticktext=p["yt_text"], ticks="outside", ticklen=2, tickwidth=0.8,
        tickcolor=AX, showline=True, linecolor=AX, linewidth=0.8, showgrid=False, zeroline=False,
        tickfont=dict(family="Liberation Sans", size=p["fs"], color=TXT), ticklabelstandoff=0,
        fixedrange=True,
    )
    for t, v, lbl in zip(p["pt"], p["pi"], p["pl"]):
        annotations.append(dict(x=t, y=v, xref=xa, yref=ya, text=lbl, showarrow=False,
                                yanchor="bottom", yshift=1, xshift=p["nudge"].get(lbl, 0),
                                font=dict(family="Liberation Sans", size=p["pfs"], color=TXT)))
    for line_text, yy in zip(p["title"], p["ty"]):
        annotations.append(dict(x=px(p["tx"]), y=py(yy), xref="paper", yref="paper", text="<b>" + line_text + "</b>",
                                showarrow=False, xanchor="left", yanchor="middle",
                                font=dict(family="Liberation Serif", size=p["tfs"], color="#111111")))
    annotations.append(dict(x=px(p["x0"] + 4.0 * p["ppm"]), y=py(p["tlab"]), xref="paper", yref="paper",
                            text="Time, min", showarrow=False, xanchor="center", yanchor="middle",
                            font=dict(family="Liberation Sans", size=p["fs"], color=TXT)))
    annotations.append(dict(x=px(p["x0"] - 19.5), y=py(p["ytitle"]), xref="paper", yref="paper",
                            text="Intensity, cps", showarrow=False, textangle=-90,
                            xanchor="center", yanchor="middle",
                            font=dict(family="Liberation Sans", size=p["fs"], color=TXT)))

fig.update_layout(
    width=W, height=H, margin=dict(l=0, r=0, t=0, b=0),
    paper_bgcolor="white", plot_bgcolor="white",
    annotations=annotations, showlegend=False, **layout,
)

fig.write_html("out.html", config={"displayModeBar": False},
               post_script="document.body.style.margin='0';document.body.style.overflow='hidden';")
